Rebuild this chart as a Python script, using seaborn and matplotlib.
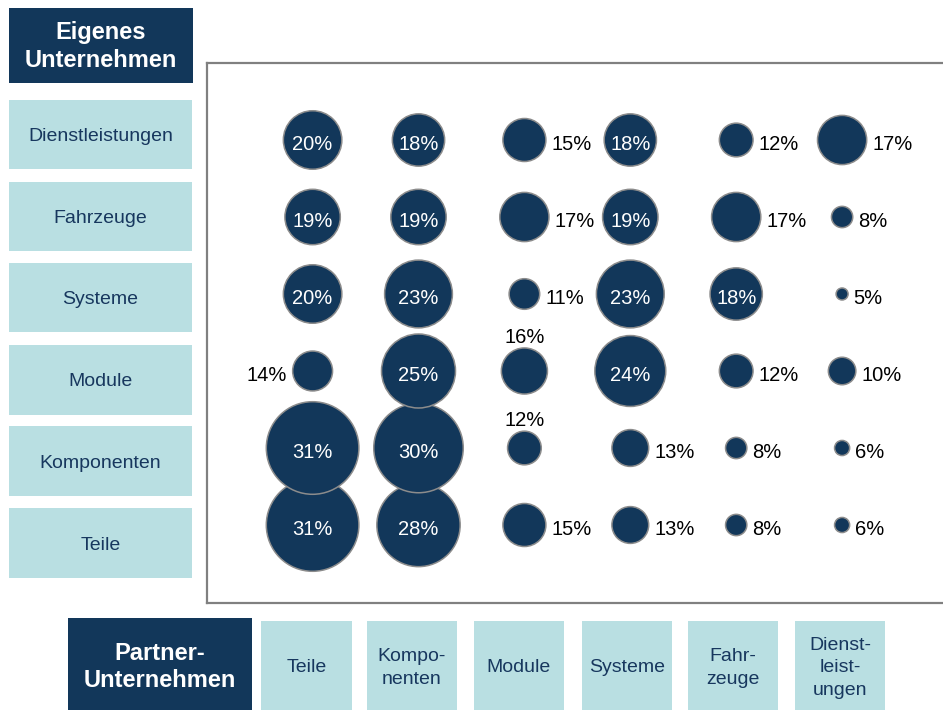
import numpy as np
import pandas as pd
import matplotlib
matplotlib.use("Agg")
import matplotlib.pyplot as plt
from matplotlib.patches import Rectangle
import seaborn as sns

# ---------------- data ----------------
row_cats = ["Dienstleistungen", "Fahrzeuge", "Systeme", "Module", "Komponenten", "Teile"]
col_cats = ["Teile", "Komponenten", "Module", "Systeme", "Fahrzeuge", "Dienstleistungen"]
col_labels = ["Teile", "Kompo-\nnenten", "Module", "Systeme", "Fahr-\nzeuge", "Dienst-\nleist-\nungen"]

vals_dienstleistungen = [20, 18, 15, 18, 12, 17]
vals_fahrzeuge = [19, 19, 17, 19, 17, 8]
vals_systeme = [20, 23, 11, 23, 18, 5]
vals_module = [14, 25, 16, 24, 12, 10]
vals_komponenten = [31, 30, 12, 13, 8, 6]
vals_teile = [31, 28, 15, 13, 8, 6]

# label placement: in = inside, r = right, l = left, t = top
pos_dienstleistungen = ["in", "in", "r", "in", "r", "r"]
pos_fahrzeuge = ["in", "in", "r", "in", "r", "r"]
pos_systeme = ["in", "in", "r", "in", "in", "r"]
pos_module = ["l", "in", "t", "in", "r", "r"]
pos_komponenten = ["in", "in", "t", "r", "r", "r"]
pos_teile = ["in", "in", "r", "r", "r", "r"]

all_vals = [vals_dienstleistungen, vals_fahrzeuge, vals_systeme,
            vals_module, vals_komponenten, vals_teile]
all_pos = [pos_dienstleistungen, pos_fahrzeuge, pos_systeme,
           pos_module, pos_komponenten, pos_teile]

# ---------------- style ----------------
NAVY = "#12375a"
LIGHT = "#b9dfe2"
BOXTXT = "#17375e"
EDGE = "#8c8c8c"
W, H = 943, 710

sns.set_theme(style="white")
plt.rcParams["font.family"] = ["Liberation Sans", "DejaVu Sans"]

# long table, bottom row first so upper bubbles draw on top
records = []
nrow = len(row_cats)
for ri in reversed(range(nrow)):
    for ci, c in enumerate(col_cats):
        records.append({"row": row_cats[ri], "col": c,
                        "x": ci, "y": nrow - 1 - ri,
                        "value": all_vals[ri][ci], "pos": all_pos[ri][ci]})
df = pd.DataFrame(records)

EDGE_LW = 1.1  # points
def diam_pt(v):
    d_px = 3.1 * v - 2.0 - 1.5
    return d_px * 72 / 100

size_map = {v: diam_pt(v) ** 2 for v in sorted(df["value"].unique())}

fig = plt.figure(figsize=(W / 100, H / 100), dpi=100)
fig.patch.set_facecolor("white")

def px_rect(x0, y0, x1, y1, color):
    fig.add_artist(Rectangle((x0 / W, 1 - y1 / H), (x1 - x0) / W, (y1 - y0) / H,
                             transform=fig.transFigure, facecolor=color,
                             edgecolor="none", zorder=0))

def px_text(x, y, s, **kw):
    fig.text(x / W, 1 - y / H, s, ha="center", va="center", **kw)

# main axes
ax_l, ax_r, ax_t, ax_b = 207, 943, 63, 603
ax = fig.add_axes([ax_l / W, 1 - ax_b / H, (ax_r - ax_l) / W, (ax_b - ax_t) / H])
x0_px, dx_px = 312.6, 105.9
y5_px, dy_px = 140.0, 77.0
ax.set_xlim((ax_l - x0_px) / dx_px, (ax_r - x0_px) / dx_px)
ax.set_ylim(5 - (ax_b - y5_px) / dy_px, 5 - (ax_t - y5_px) / dy_px)

sns.scatterplot(data=df, x="x", y="y", size="value", sizes=size_map,
                color=NAVY, edgecolor=EDGE, linewidth=EDGE_LW,
                legend=False, ax=ax, zorder=3)

ax.set_xticks([]); ax.set_yticks([])
ax.set_xlabel(""); ax.set_ylabel("")
for side in ["left", "top", "bottom"]:
    ax.spines[side].set_color("#808080")
    ax.spines[side].set_linewidth(1.6)
    ax.spines[side].set_visible(True)
ax.spines["right"].set_visible(False)

FS = 14.5
DY = -3.2  # points, so digits sit on the bubble centre
for _, r in df.iterrows():
    txt = f"{r['value']}%"
    rad = diam_pt(r["value"]) / 2 + EDGE_LW / 2
    if r["pos"] == "in":
        ax.annotate(txt, (r["x"], r["y"]), xytext=(0, DY),
                    textcoords="offset points", ha="center", va="center",
                    color="white", fontsize=FS, zorder=5)
    elif r["pos"] == "r":
        ax.annotate(txt, (r["x"], r["y"]), xytext=(rad + 3.5, DY),
                    textcoords="offset points", ha="left", va="center",
                    color="black", fontsize=FS, zorder=5)
    elif r["pos"] == "l":
        ax.annotate(txt, (r["x"], r["y"]), xytext=(-rad - 3.5, DY),
                    textcoords="offset points", ha="right", va="center",
                    color="black", fontsize=FS, zorder=5)
    else:
        ax.annotate(txt, (r["x"], r["y"]), xytext=(0, rad + 7.0),
                    textcoords="offset points", ha="center", va="center",
                    color="black", fontsize=FS, zorder=5)

# left header + row boxes
px_rect(9, 8, 193, 83, NAVY)
px_text(101, 46.5, "Eigenes\nUnternehmen", color="white", fontsize=17,
        fontweight="bold", linespacing=1.25)
row_box_y = [(100, 169), (182, 251), (263, 332), (345, 415), (426, 496), (508, 578)]
for (y0, y1), lab in zip(row_box_y, row_cats):
    px_rect(9, y0, 192, y1, LIGHT)
    px_text(100.5, (y0 + y1) / 2 + 2, lab, color=BOXTXT, fontsize=14)

# bottom header + column boxes
px_rect(68, 618, 252, 712, NAVY)
px_text(160, 667, "Partner-\nUnternehmen", color="white", fontsize=17,
        fontweight="bold", linespacing=1.25)
col_box_x = [(261, 352), (367, 457), (474, 564), (582, 672), (688, 778), (795, 885)]
for (x0, x1), lab in zip(col_box_x, col_labels):
    px_rect(x0, 621, x1, 712, LIGHT)
    px_text((x0 + x1) / 2, 668, lab, color=BOXTXT, fontsize=14, linespacing=1.45)

fig.savefig("out.png", dpi=100)
